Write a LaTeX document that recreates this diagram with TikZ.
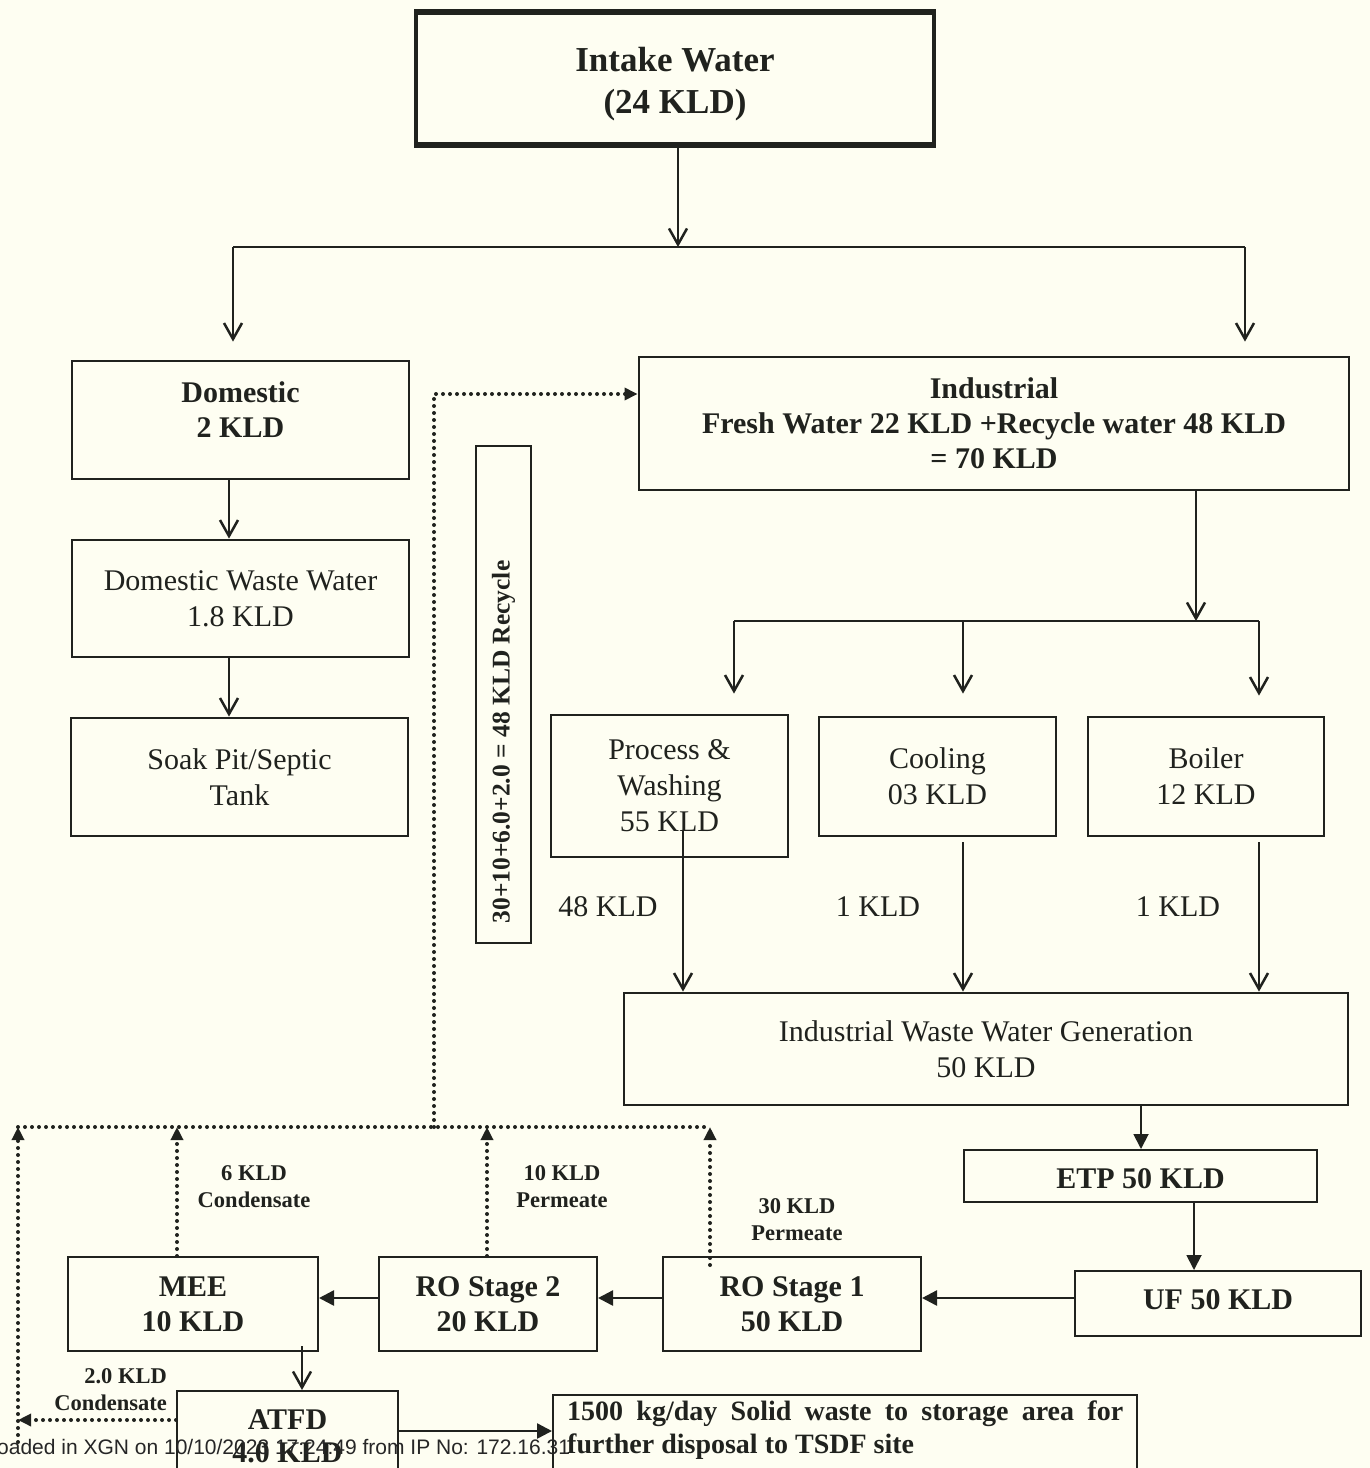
\documentclass[tikz,border=0pt]{standalone}
\usepackage{fontspec}
\setmainfont{Liberation Serif}
\newfontfamily\wmfont{Liberation Sans}
\usetikzlibrary{arrows.meta}
\definecolor{bg}{RGB}{254,254,242}
\definecolor{ink}{RGB}{32,34,30}
\begin{document}
\begin{tikzpicture}[x=1pt,y=-1pt,
  every node/.style={text=ink},
  box/.style={draw=ink, line width=2.8pt, rectangle, inner sep=0pt, align=center},
  fb/.style={font=\fontsize{30}{35}\selectfont\bfseries, align=center},
  fr/.style={font=\fontsize{30}{36}\selectfont, align=center},
  fs/.style={font=\fontsize{22.5}{27}\selectfont\bfseries, align=center, inner sep=0pt},
  conn/.style={draw=ink, line width=2.5pt},
  varr/.style={conn, -{Straight Barb[length=16pt,width=18pt]}},
  tarr/.style={conn, -{Triangle[length=15pt,width=15pt]}},
  dots/.style={draw=ink, line width=4pt, line cap=round, dash pattern=on 0pt off 7pt},
  dotarr/.style={dots, -{Triangle[length=13pt,width=12pt]}}
]
\fill[bg] (0,0) rectangle (1370,1468);
\useasboundingbox (0,0) rectangle (1370,1468);
\clip (0,0) rectangle (1370,1468);

% ---- boxes ----
\node[box, minimum width=518pt, minimum height=131pt, line width=3.2pt] (intake) at (675,78.5) {};
\draw[ink, line width=5pt] (intake.north west) -- (intake.north east);
\draw[ink, line width=5pt] (intake.south west) -- (intake.south east);
\node[font=\fontsize{35}{42}\selectfont\bfseries, align=center] (intaket) at (675,84) {Intake Water\\(24 KLD)};
\node[box, minimum width=337pt, minimum height=118pt] (dom) at (240.5,420) {};
\node[fb] (domt) at (240.5,409.5) {Domestic\\2 KLD};
\node[box, fr, minimum width=337pt, minimum height=117pt] (dww) at (240.5,598.5) {Domestic Waste Water\\1.8 KLD};
\node[box, fr, minimum width=337pt, minimum height=118pt] (soak) at (239.5,777) {Soak Pit/Septic\\Tank};
\node[box, fb, minimum width=710pt, minimum height=133pt] (ind) at (994,423.5) {Industrial\\Fresh Water 22 KLD +Recycle water 48 KLD\\= 70 KLD};
\node[box, minimum width=55pt, minimum height=497pt, line width=1.6pt] (rec) at (503.5,694.5) {};
\node[rotate=90, font=\fontsize{25.5}{30}\selectfont\bfseries] (rect) at (503.5,742) {30+10+6.0+2.0 = 48 KLD Recycle};
\node[box, fr, minimum width=237pt, minimum height=142pt] (proc) at (669.5,786) {Process \&\\Washing\\55 KLD};
\node[box, fr, minimum width=237pt, minimum height=119pt] (cool) at (937.5,776.5) {Cooling\\03 KLD};
\node[box, fr, minimum width=236pt, minimum height=119pt] (boil) at (1206,776.5) {Boiler\\12 KLD};
\node[box, fr, minimum width=724pt, minimum height=112pt] (iwwg) at (986,1049) {Industrial Waste Water Generation\\50 KLD};
\node[box, minimum width=353pt, minimum height=52pt, line width=2pt] (etp) at (1140.5,1176) {};
\node[fb] (etpt) at (1140.5,1179) {ETP 50 KLD};
\node[box, minimum width=286pt, minimum height=65pt, line width=2pt] (uf) at (1218,1303.5) {};
\node[fb] (uft) at (1218,1300) {UF 50 KLD};
\node[box, fb, minimum width=258pt, minimum height=94pt, line width=2pt] (ro1) at (792,1304) {RO Stage 1\\50 KLD};
\node[box, fb, minimum width=218pt, minimum height=94pt, line width=2pt] (ro2) at (488,1304) {RO Stage 2\\20 KLD};
\node[box, fb, minimum width=250pt, minimum height=94pt, line width=2pt] (mee) at (193,1304) {MEE\\10 KLD};
\node[box, minimum width=221pt, minimum height=110pt, anchor=north, line width=2pt] (atfd) at (287.5,1390) {};
\node[font=\fontsize{30}{33}\selectfont\bfseries, align=center] (atfdt) at (287.5,1436.5) {ATFD\\4.0 KLD};
\node[box, minimum width=584pt, minimum height=110pt, anchor=north, line width=2pt] (solid) at (845,1394) {};
\node[text width=556pt, align=justify, font=\fontsize{28}{33}\selectfont\bfseries,
      anchor=north west, inner sep=0pt] (solidt) at (567,1401)
      {1500 kg/day Solid waste to storage area for\linebreak further disposal to TSDF site};

% ---- top distribution ----
\coordinate (j1) at (678,247);
\coordinate (jl) at (233,247);
\coordinate (jr) at (1245,247);
\draw[varr] (intake.south -| j1) -- (j1);
\draw[conn] (jl) -- (jr);
\draw[varr, shorten >=18pt] (jl) -- (jl |- dom.north);
\draw[varr, shorten >=14pt] (jr) -- (jr |- ind.north);

% ---- domestic chain ----
\coordinate (xd) at (229,0);
\draw[varr] (xd |- dom.south) -- (xd |- dww.north);
\draw[varr] (xd |- dww.south) -- (xd |- soak.north);

% ---- recycle into industrial ----
\coordinate (jd) at (434,1127);
\coordinate (rc) at (434,394);
\draw[dotarr] (jd) -- (rc) -- (rc -| ind.west);

% ---- industrial distribution ----
\coordinate (j2) at (1196,621);
\coordinate (j2l) at (734,621);
\coordinate (j2m) at (963,621);
\coordinate (j2r) at (1259,621);
\draw[varr] (ind.south -| j2) -- (j2);
\draw[conn] (j2l) -- (j2r);
\draw[varr, shorten >=20pt] (j2l) -- (j2l |- proc.north);
\draw[varr, shorten >=22pt] (j2m) -- (j2m |- cool.north);
\draw[varr, shorten >=20pt] (j2r) -- (j2r |- boil.north);

% ---- to waste water generation ----
\coordinate (pa) at (683,830);
\draw[varr] (pa) -- (pa |- iwwg.north);
\draw[varr, shorten <=5pt] (j2m |- cool.south) -- (j2m |- iwwg.north);
\draw[varr, shorten <=5pt] (j2r |- boil.south) -- (j2r |- iwwg.north);
\node[fr] (l48) at (608,907) {48 KLD};
\node[fr] (l1a) at (878,907) {1 KLD};
\node[fr] (l1b) at (1178,907) {1 KLD};

% ---- treatment chain ----
\coordinate (xe) at (1141,0);
\coordinate (xu) at (1194,0);
\coordinate (ya) at (0,1298);
\draw[tarr, line width=1.8pt] (xe |- iwwg.south) -- (xe |- etp.north);
\draw[tarr, line width=1.8pt] (xu |- etp.south) -- (xu |- uf.north);
\draw[tarr] (ya -| uf.west) -- (ya -| ro1.east);
\draw[tarr] (ya -| ro1.west) -- (ya -| ro2.east);
\draw[tarr] (ya -| ro2.west) -- (ya -| mee.east);
\coordinate (ma) at (302,1346);
\draw[varr] (ma) -- (ma |- atfd.north);
\coordinate (yb) at (0,1431);
\draw[tarr] (yb -| atfd.east) -- (yb -| solid.west);

% ---- recycle collection (dotted) ----
\coordinate (dl) at (18,1127);
\coordinate (dr) at (710,1127);
\draw[dots] (dl) -- (dr);
\coordinate (dlb) at (18,1442);
\draw[dotarr] (dlb) -- (dl);
\coordinate (d1) at (177,1127);
\draw[dotarr] (d1 |- mee.north) -- (d1);
\coordinate (d2) at (487,1127);
\draw[dotarr] (d2 |- ro2.north) -- (d2);
\coordinate (d3b) at (710,1265);
\draw[dotarr] (d3b) -- (dr);
\coordinate (yc) at (0,1420);
\draw[dotarr] (yc -| atfd.west) -- (yc -| dl);

\node[fs] (c6) at (254,1186.5) {6 KLD\\Condensate};
\node[fs] (p10) at (562,1186.5) {10 KLD\\Permeate};
\node[fs] (p30) at (797,1219.5) {30 KLD\\Permeate};
\node[fs, align=right, anchor=east] (c2) at (167,1389.5) {2.0 KLD\\Condensate};

% ---- watermark ----
\node[anchor=base west, inner sep=0pt, text=black!85,
      font=\wmfont\fontsize{21}{24}\selectfont] (wm) at (-3,1454)
      {oaded in XGN on 10/10/2023 17:24:49 from IP No: 172.16.31};
\end{tikzpicture}
\end{document}
